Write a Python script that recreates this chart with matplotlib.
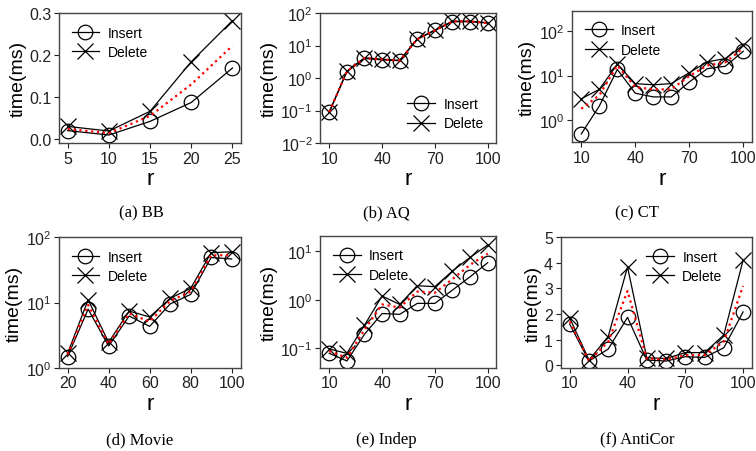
import numpy as np
import matplotlib
matplotlib.use('Agg')
import matplotlib.pyplot as plt
from matplotlib.ticker import LogLocator, NullLocator

plt.rcParams['font.family'] = ['Liberation Sans', 'DejaVu Sans']
plt.rcParams['mathtext.fontset'] = 'custom'
plt.rcParams['mathtext.rm'] = 'Liberation Sans'
plt.rcParams['mathtext.it'] = 'Liberation Sans:italic'

# data
r_bb = [5, 10, 15, 20, 25]
bb_ins = [0.020, 0.0095, 0.042, 0.087, 0.169]
bb_del = [0.030, 0.019, 0.066, 0.184, 0.282]
bb_avg = [0.024, 0.014, 0.055, 0.130, 0.222]

r_10 = [10, 20, 30, 40, 50, 60, 70, 80, 90, 100]
aq_ins = [0.09, 1.58, 4.0, 3.6, 3.4, 15.5, 29, 54, 54, 49]
aq_del = [0.09, 1.6, 4.2, 3.8, 3.5, 16, 30, 56, 56, 50]
aq_avg = [0.09, 1.6, 4.1, 3.7, 3.45, 15.8, 29.5, 55, 55, 49.5]

ct_ins = [0.48, 2.05, 13.8, 4.0, 3.3, 3.3, 7.2, 14.4, 16.3, 35.6]
ct_del = [3.0, 4.9, 18, 6.6, 6.2, 6.6, 11.7, 20.5, 24.4, 49]
ct_avg = [1.78, 3.6, 17, 5.5, 4.9, 4.9, 9.8, 17, 20, 42]

r_mv = [20, 30, 40, 50, 60, 70, 80, 90, 100]
mv_ins = [1.48, 7.9, 2.15, 6.2, 4.3, 9.5, 13.3, 49, 46.5]
mv_del = [1.66, 11, 2.45, 7.4, 6.0, 11.6, 16.5, 58, 60]
mv_avg = [1.6, 9.2, 2.3, 6.8, 5.1, 10.6, 14.7, 53, 53]

in_ins = [0.079, 0.055, 0.195, 0.52, 0.50, 0.84, 0.84, 1.58, 2.96, 5.75]
in_del = [0.097, 0.079, 0.30, 1.19, 0.80, 1.94, 1.85, 3.9, 7.4, 13.3]
in_avg = [0.088, 0.064, 0.24, 0.80, 0.69, 1.47, 1.39, 2.65, 5.2, 8.9]

ac_ins = [1.60, 0.16, 0.63, 1.87, 0.20, 0.16, 0.33, 0.30, 0.68, 2.08]
ac_del = [1.84, 0.20, 1.12, 3.84, 0.29, 0.26, 0.49, 0.49, 1.18, 4.10]
ac_avg = [1.71, 0.16, 0.92, 2.90, 0.26, 0.22, 0.39, 0.39, 0.92, 3.10]

W, H = 756, 452
fig = plt.figure(figsize=(W / 100, H / 100), dpi=100)


def rect(l, t, r, b):
    return [l / W, 1 - b / H, (r - l) / W, (b - t) / H]


def panel(box, x, ins, dele, avg, xlim, ylim, xticks, log=False, yticks=None,
          loc='upper left', anchor=None, caption='', cap_xy=(0, 0)):
    ax = fig.add_axes(rect(*box))
    ax.plot(x, ins, color='black', lw=0.9, marker='o', ms=10.5, mfc='none',
            mew=0.9, label='Insert')
    ax.plot(x, dele, color='black', lw=0.9, marker='x', ms=11, mew=0.9,
            label='Delete')
    ax.plot(x, avg, color='red', lw=1.6, ls=':', zorder=5)
    if log:
        ax.set_yscale('log')
        ax.yaxis.set_major_locator(LogLocator(base=10, numticks=10))
        ax.yaxis.set_minor_locator(NullLocator())
    if yticks is not None:
        ax.set_yticks(yticks)
    ax.set_xlim(*xlim)
    ax.set_ylim(*ylim)
    ax.set_xticks(xticks)
    ax.tick_params(labelsize=11.5, length=3.5, width=0.8, pad=2, colors='#222222')
    for s in ax.spines.values():
        s.set_color('#444444')
        s.set_linewidth(1.0)
    ax.set_xlabel('r', fontsize=16, labelpad=2)
    ax.set_ylabel('time(ms)', fontsize=14, labelpad=2)
    kw = {}
    if anchor is not None:
        kw['bbox_to_anchor'] = anchor
    ax.legend(loc=loc, frameon=False, fontsize=10, handlelength=2.0,
              handletextpad=0.6, labelspacing=0.4, **kw)
    fig.text(cap_xy[0] / W, 1 - cap_xy[1] / H, caption, ha='center', va='center',
             family=['Liberation Serif', 'DejaVu Serif'], fontsize=12)
    return ax


panel((59, 14, 240.7, 144), r_bb, bb_ins, bb_del, bb_avg, (3.95, 26.0),
      (-0.0095, 0.3), r_bb, yticks=[0.0, 0.1, 0.2, 0.3],
      caption='(a) BB', cap_xy=(141, 213))
panel((320.3, 14, 496.3, 144), r_10, aq_ins, aq_del, aq_avg, (4.9, 104.9),
      (1e-2, 1e2), [10, 40, 70, 100], log=True, loc='lower right',
      caption='(b) AQ', cap_xy=(386, 213))
panel((572.3, 11.7, 752.3, 143.3), r_10, ct_ins, ct_del, ct_avg, (5, 105),
      (0.31, 295), [10, 40, 70, 100], log=True,
      caption='(c) CT', cap_xy=(637, 213))
panel((59, 238.3, 240.7, 368.7), r_mv, mv_ins, mv_del, mv_avg, (15.8, 104.4),
      (1, 100), [20, 40, 60, 80, 100], log=True,
      caption='(d) Movie', cap_xy=(140, 440))
panel((320.3, 237, 496.3, 368.7), r_10, in_ins, in_del, in_avg, (4.9, 104.9),
      (0.04, 20.4), [10, 40, 70, 100], log=True,
      caption='(e) Indep', cap_xy=(386, 440))
panel((560.7, 238.3, 752.3, 368.7), r_10, ac_ins, ac_del, ac_avg, (5.3, 104.8),
      (-0.1, 5), [10, 40, 70, 100], yticks=[0, 1, 2, 3, 4, 5], loc='upper right',
      anchor=(0.91, 1.0), caption='(f) AntiCor', cap_xy=(637, 440))

fig.savefig('out.png', dpi=100)
